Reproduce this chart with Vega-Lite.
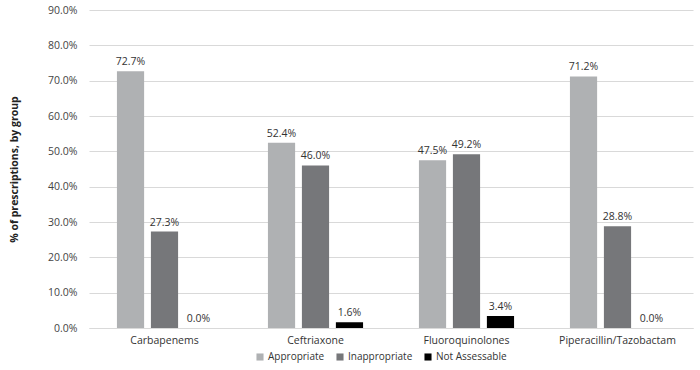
{
  "$schema": "https://vega.github.io/schema/vega-lite/v6.json",
  "width": 604,
  "height": 318,
  "autosize": {"type": "none"},
  "padding": {"left": 89, "top": 10, "right": 7, "bottom": 42},
  "background": "white",
  "config": {
    "view": {"stroke": null},
    "font": "Open Sans"
  },
  "data": {
    "values": [
      {"drug": "Carbapenems", "group": "Appropriate", "pct": 0.727},
      {"drug": "Carbapenems", "group": "Inappropriate", "pct": 0.273},
      {"drug": "Carbapenems", "group": "Not Assessable", "pct": 0.0},
      {"drug": "Ceftriaxone", "group": "Appropriate", "pct": 0.524},
      {"drug": "Ceftriaxone", "group": "Inappropriate", "pct": 0.46},
      {"drug": "Ceftriaxone", "group": "Not Assessable", "pct": 0.016},
      {"drug": "Fluoroquinolones", "group": "Appropriate", "pct": 0.475},
      {"drug": "Fluoroquinolones", "group": "Inappropriate", "pct": 0.492},
      {"drug": "Fluoroquinolones", "group": "Not Assessable", "pct": 0.034},
      {"drug": "Piperacillin/Tazobactam", "group": "Appropriate", "pct": 0.712},
      {"drug": "Piperacillin/Tazobactam", "group": "Inappropriate", "pct": 0.288},
      {"drug": "Piperacillin/Tazobactam", "group": "Not Assessable", "pct": 0.0}
    ]
  },
  "encoding": {
    "x": {
      "field": "drug", "type": "nominal", "sort": null, "title": null,
      "scale": {"paddingInner": 0.37, "paddingOuter": 0.185},
      "axis": {"labelAngle": 0, "ticks": false, "domainColor": "#d9d9d9", "labelFontSize": 10.5, "labelColor": "#333333", "labelPadding": 7, "labelFont": "Open Sans"}
    },
    "xOffset": {
      "field": "group", "type": "nominal", "sort": ["Appropriate", "Inappropriate", "Not Assessable"],
      "scale": {"paddingInner": 0.2, "paddingOuter": 0}
    },
    "y": {
      "field": "pct", "type": "quantitative",
      "title": "% of prescriptions, by group",
      "scale": {"domain": [0, 0.9], "nice": false},
      "axis": {
        "values": [0, 0.1, 0.2, 0.3, 0.4, 0.5, 0.6, 0.7, 0.8, 0.9],
        "format": ".1%", "domain": false, "ticks": false,
        "gridColor": "#d9d9d9", "labelFontSize": 10.5, "labelColor": "#444444", "labelPadding": 12,
        "titleFontSize": 10.5, "titleFontWeight": "bold", "titleColor": "#222222", "titlePadding": 28, "labelFont": "Open Sans", "titleFont": "Open Sans"
      }
    }
  },
  "layer": [
    {
      "mark": {"type": "bar"},
      "encoding": {
        "color": {
          "field": "group", "type": "nominal", "sort": ["Appropriate", "Inappropriate", "Not Assessable"],
          "scale": {"domain": ["Appropriate", "Inappropriate", "Not Assessable"], "range": ["#afb1b3", "#76777a", "#000000"]},
          "legend": {"title": null, "orient": "none", "legendX": 166, "legendY": 342, "direction": "horizontal", "symbolType": "square", "symbolSize": 50, "symbolStrokeWidth": 0, "labelFontSize": 10, "labelColor": "#333333", "columnPadding": 10, "labelOffset": 3, "labelFont": "Open Sans"}
        }
      }
    },
    {
      "mark": {"type": "text", "dy": -9, "fontSize": 10.5, "color": "#333333", "font": "Open Sans"},
      "encoding": {
        "text": {"field": "pct", "type": "quantitative", "format": ".1%"}
      }
    }
  ]
}
